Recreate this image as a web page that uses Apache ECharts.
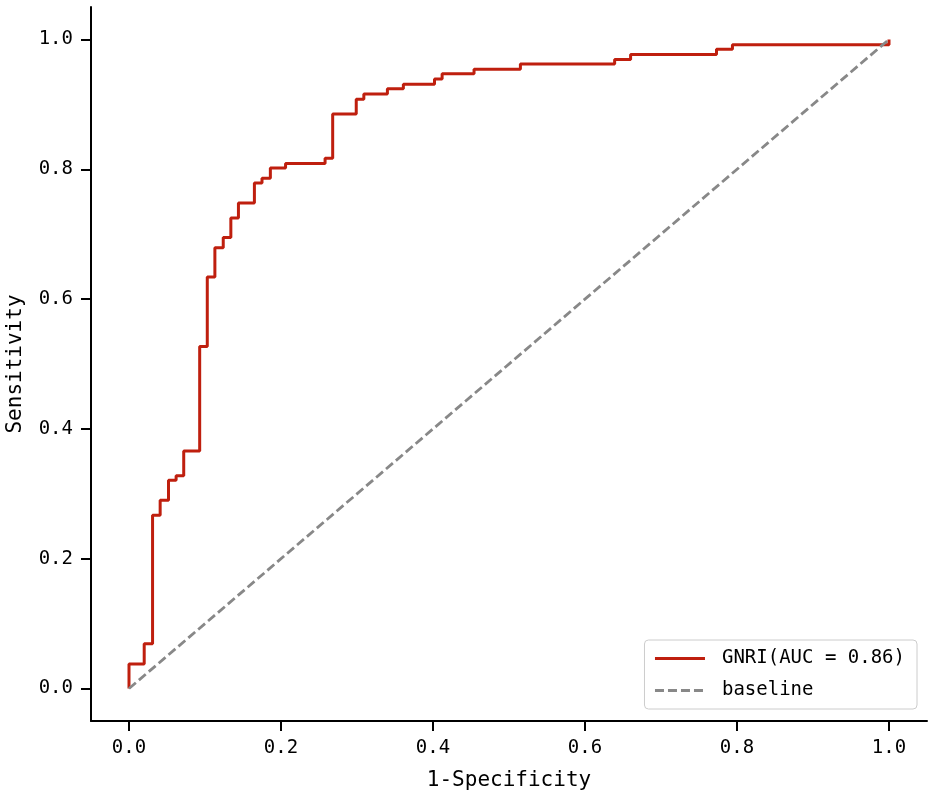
<!DOCTYPE html>
<html>
<head>
<meta charset="utf-8">
<script src="https://cdn.jsdelivr.net/npm/echarts@6/dist/echarts.min.js"></script>
<style>
    html, body { margin: 0; padding: 0; background: #fff; }
    #myChart { width: 935px; height: 796px; }
</style>
</head>
<body>
<div id="myChart"></div>
<script>
// ROC 曲线的拐点（每个竖直台阶的顶端）
var fpr = [0, 0, 0.020, 0.031, 0.041, 0.052, 0.062, 0.072, 0.093, 0.103, 0.113, 0.124,
    0.134, 0.144, 0.165, 0.175, 0.186, 0.206, 0.258, 0.268, 0.299, 0.309, 0.340, 0.361,
    0.402, 0.412, 0.454, 0.515, 0.639, 0.660, 0.773, 0.794, 1.0, 1.0];
var tpr = [0, 0.038, 0.069, 0.267, 0.290, 0.321, 0.328, 0.366, 0.527, 0.634, 0.679, 0.695,
    0.725, 0.748, 0.779, 0.786, 0.802, 0.809, 0.817, 0.885, 0.908, 0.916, 0.924, 0.931,
    0.939, 0.947, 0.954, 0.962, 0.969, 0.977, 0.985, 0.992, 0.992, 1.0];

var baseX = [0, 1];
var baseY = [0, 1];

var tickValues = [0, 0.2, 0.4, 0.6, 0.8, 1.0];
var seriesNames = ['GNRI(AUC = 0.86)', 'baseline'];

var FONT = 'DejaVu Sans Mono';

window.onload = function () {
    var myChart = echarts.init(document.getElementById('myChart'));

    // 先水平后竖直的台阶
    var rocData = [[fpr[0], tpr[0]]];
    for (var i = 1; i < fpr.length; i++) {
        rocData.push([fpr[i], tpr[i - 1]]);
        rocData.push([fpr[i], tpr[i]]);
    }
    var baseData = baseX.map(function (x, i) { return [x, baseY[i]]; });

    var axisCommon = {
        type: 'value',
        min: -0.05,
        max: 1.05,
        splitLine: { show: false },
        axisLine: { show: true, onZero: false, lineStyle: { color: '#000', width: 2 } },
        axisTick: { show: true, length: 10, lineStyle: { color: '#000', width: 2 }, customValues: tickValues },
        axisLabel: {
            customValues: tickValues,
            fontFamily: FONT,
            fontSize: 19,
            color: '#000',
            formatter: function (v) { return v.toFixed(1); }
        },
        nameLocation: 'middle',
        nameTextStyle: { fontFamily: FONT, fontSize: 21, color: '#000' }
    };

    var option = {
        animation: false,
        grid: { left: 91, right: 8, top: 7, bottom: 75, outerBoundsMode: 'none', containLabel: false },
        xAxis: echarts.util.merge({
            name: '1-Specificity',
            nameGap: 49,
            axisLabel: { margin: 18 }
        }, axisCommon),
        yAxis: echarts.util.merge({
            name: 'Sensitivity',
            nameGap: 65,
            axisLabel: { margin: 18 }
        }, axisCommon),
        legend: {
            data: seriesNames,
            orient: 'vertical',
            right: 18,
            bottom: 87,
            padding: [9, 12, 9, 9],
            itemGap: 13,
            itemWidth: 50,
            itemHeight: 20,
            itemStyle: { opacity: 0 },
            lineStyle: { width: 3 },
            borderColor: '#cccccc',
            borderWidth: 1,
            borderRadius: 4,
            backgroundColor: 'rgba(255,255,255,0.8)',
            textStyle: { fontFamily: FONT, fontSize: 19, color: '#000', padding: [0, 0, 0, 12] }
        },
        series: [{
            name: seriesNames[0],
            type: 'line',
            data: rocData,
            showSymbol: false,
            symbol: 'none',
            lineStyle: { color: '#bf1f0e', width: 3 },
            itemStyle: { color: '#bf1f0e' }
        }, {
            name: seriesNames[1],
            type: 'line',
            data: baseData,
            showSymbol: false,
            symbol: 'none',
            lineStyle: { color: '#888888', width: 2.8, type: [9, 4] },
            itemStyle: { color: '#888888' }
        }]
    };

    myChart.setOption(option);
};
</script>
</body>
</html>
